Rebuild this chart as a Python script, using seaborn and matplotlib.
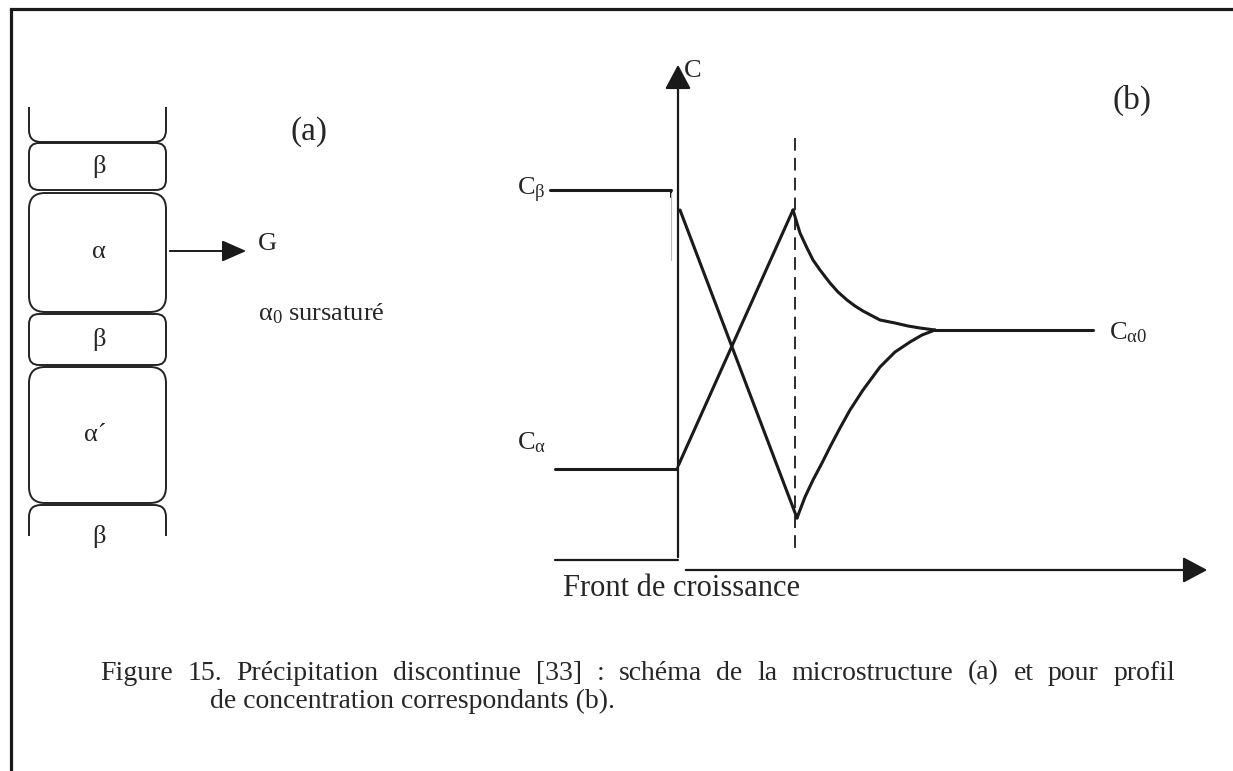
import seaborn as sns
import matplotlib.pyplot as plt
from matplotlib.patches import FancyBboxPatch, Rectangle

# ---- panel (a): stacked lamellae, top/bottom edges in pixels of the page ----
cell_labels = ["", "β", "α", "β", "α´", "β"]
cell_top = [70, 143, 193, 314, 367, 505]
cell_bottom = [142, 190, 312, 365, 503, 590]
cell_round = [12, 10, 16, 10, 16, 12]
cell_left, cell_right = 29, 166

# ---- panel (b): concentration profile (x = distance from front, C arbitrary) ----
beta_x, beta_c = [-128, -7], [380, 380]
alpha_x, alpha_c = [-123, -1], [101, 101]
left_base_x, left_base_c = [-123, 0], [10, 10]
fall_x, fall_c = [2, 119], [360, 52]
rise_x, rise_c = [1, 115], [106, 360]
upper_x = [115, 122, 129, 135, 142, 152, 160, 169, 177, 185, 202, 217, 230, 242, 257]
upper_c = [360, 337, 322, 310, 300, 287, 278, 270, 264, 259, 250, 247, 244, 242, 240]
lower_x = [119, 127, 135, 144, 152, 162, 172, 185, 202, 217, 232, 244, 257]
lower_c = [52, 73, 90, 107, 123, 142, 160, 180, 203, 218, 228, 235, 240]
alpha0_x, alpha0_c = [257, 415], [240, 240]
dash_x, dash_c = [117, 117], [432, 15]

caption_1 = ("Figure 15. Précipitation discontinue [33] : schéma de la "
             "microstructure (a) et pour profil")
caption_2 = "de concentration correspondants (b)."

sns.set_theme(style="white")
plt.rcParams["font.family"] = ["Liberation Serif", "DejaVu Serif"]
plt.rcParams["mathtext.fontset"] = "custom"
plt.rcParams["mathtext.rm"] = "Liberation Serif"
plt.rcParams["mathtext.it"] = "Liberation Serif:italic"

fig = plt.figure(figsize=(12.33, 7.71), dpi=100)
fsz = 19

# page-level axes in pixel units
ax = fig.add_axes([0, 0, 1, 1])
ax.set_xlim(0, 1233)
ax.set_ylim(771, 0)
ax.axis("off")

# page border (top + left only)
ax.plot([11, 1233], [9, 9], color="k", lw=2.3, solid_capstyle="projecting")
ax.plot([11, 11], [9, 771], color="k", lw=2.3)

clip = Rectangle((0, 107), 1233, 429, transform=ax.transData)
for lab, t, b, r in zip(cell_labels, cell_top, cell_bottom, cell_round):
    box = FancyBboxPatch((cell_left, t), cell_right - cell_left, b - t,
                         boxstyle=f"round,pad=0,rounding_size={r}",
                         fc="none", ec="#222222", lw=1.4)
    ax.add_patch(box)
    box.set_clip_path(clip)
    if lab:
        yc = (t + b) / 2 if b < 536 else 537
        xc = 99 if lab != "α´" else 95
        ax.text(xc, yc, lab, ha="center", va="center", fontsize=fsz)

ax.annotate("", xy=(249, 251), xytext=(167, 251),
            arrowprops=dict(arrowstyle="-|>,head_length=0.75,head_width=0.33",
                            color="k", lw=1.4, mutation_scale=20))
ax.text(258, 244, "G", ha="left", va="center", fontsize=fsz)
ax.text(290, 132, "(a)", ha="left", va="center", fontsize=24)
ax.text(258, 314, r"$\mathrm{α}_{\mathrm{0}}$ sursaturé", ha="left", va="center",
        fontsize=fsz)

# caption: first line justified between x=100 and x=1175
cap_fsz = 20
words = caption_1.split(" ")
objs = [ax.text(0, 673, w, ha="left", va="center", fontsize=cap_fsz) for w in words]
fig.canvas.draw()
rend = fig.canvas.get_renderer()
inv = ax.transData.inverted()
widths = []
for o in objs:
    bb = o.get_window_extent(rend)
    x0 = inv.transform((bb.x0, bb.y0))[0]
    x1 = inv.transform((bb.x1, bb.y0))[0]
    widths.append(x1 - x0)
gap = (1175 - 100 - sum(widths)) / (len(words) - 1)
xpos = 100
for o, w in zip(objs, widths):
    o.set_x(xpos)
    xpos += w + gap
ax.text(210, 701, caption_2, ha="left", va="center", fontsize=cap_fsz)

# panel (b) axes: 1 data unit = 1 pixel, origin at the growth front
axb = fig.add_axes([540 / 1233, 1 - 600 / 771, 680 / 1233, 550 / 771])
axb.set_xlim(-138, 542)
axb.set_ylim(-30, 520)
axb.axis("off")
axb.patch.set_alpha(0)

line_kw = dict(color="k", lw=2.2, sort=False, legend=False, ax=axb)
for xs, cs in [(beta_x, beta_c), (alpha_x, alpha_c), (fall_x, fall_c),
               (rise_x, rise_c), (upper_x, upper_c), (lower_x, lower_c),
               (alpha0_x, alpha0_c)]:
    sns.lineplot(x=xs, y=cs, **line_kw)
sns.lineplot(x=left_base_x, y=left_base_c, color="k", lw=1.6, ax=axb)
axb.plot(dash_x, dash_c, color="k", lw=1.3, linestyle=(0, (7, 4)))
# small hooks and faint scan line near the front
axb.plot([-7, -7], [380, 373], color="k", lw=1.5)
axb.plot([-7, -7], [377, 310], color="#bbbbbb", lw=0.8)
axb.plot([-1, 1], [101, 106], color="k", lw=1.8)

# axes arrows
axb.annotate("", xy=(0, 508), xytext=(0, 10),
             arrowprops=dict(arrowstyle="-|>,head_length=0.75,head_width=0.4",
                             color="k", lw=1.6, mutation_scale=20))
axb.annotate("", xy=(532, 0), xytext=(5, 0),
             arrowprops=dict(arrowstyle="-|>,head_length=0.75,head_width=0.4",
                             color="k", lw=1.6, mutation_scale=20))

axb.text(6, 499, "C", ha="left", va="center", fontsize=fsz)
axb.text(-161, 380, r"C$_{\mathrm{β}}$", ha="left", va="center", fontsize=fsz)
axb.text(-161, 127, r"C$_{\mathrm{α}}$", ha="left", va="center", fontsize=fsz)
axb.text(431, 237, r"C$_{\mathrm{α0}}$", ha="left", va="center", fontsize=fsz)
axb.text(434, 470, "(b)", ha="left", va="center", fontsize=24)
axb.text(-115, -18, "Front de croissance", ha="left", va="center", fontsize=22)

fig.savefig("out.png", dpi=100)
